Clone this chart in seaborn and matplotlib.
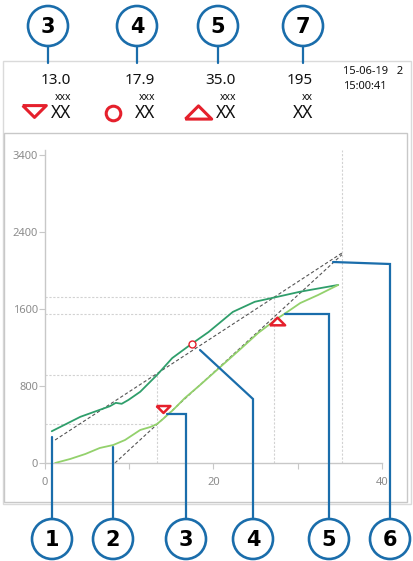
import matplotlib
matplotlib.use("Agg")
import matplotlib.pyplot as plt
from matplotlib.patches import Circle, Rectangle
import numpy as np
import pandas as pd
import seaborn as sns

sns.set_theme(style="white")
plt.rcParams["font.family"] = ["Noto Sans", "DejaVu Sans"]

# ---- data ----
upper_x = [0.8, 4.2, 7.7, 8.4, 9.1, 9.9, 11.3, 13.3, 15.1, 17.2, 19.4, 22.3, 24.9, 27.5, 30.3, 34.8]
upper_y = [330, 480, 590, 625, 615, 655, 740, 915, 1090, 1225, 1360, 1570, 1675, 1725, 1780, 1850]

lower_x = [1.2, 3.0, 4.8, 6.5, 8.1, 9.5, 11.3, 12.5, 13.3, 14.0, 15.2, 16.6, 18.4, 20.8, 23.2,
           25.3, 27.5, 29.1, 30.3, 32.4, 34.8]
lower_y = [0, 42, 94, 156, 187, 239, 343, 374, 405, 457, 551, 675, 810, 997, 1184,
           1351, 1496, 1590, 1662, 1745, 1850]

tangent_a_x = [1.2, 35.25]
tangent_a_y = [239, 2182]
tangent_b_x = [8.3, 35.25]
tangent_b_y = [0, 2165]

point_down = (14.0, 561)
point_circle = (17.45, 1236)
point_up = (27.5, 1475)

x_ticks = [0, 10, 20, 30, 40]
x_tick_labels = ["0", "", "20", "", "40"]
y_ticks = [0, 800, 1600, 2400, 3200]
y_tick_labels = ["0", "800", "1600", "2400", "3400"]

header_values = ["13.0", "17.9", "35.0", "195"]
header_units = ["xxx", "xxx", "xxx", "xx"]
header_names = ["XX", "XX", "XX", "XX"]
stamp_lines = ["15-06-19   2", "15:00:41"]
top_numbers = ["3", "4", "5", "7"]
bottom_numbers = ["1", "2", "3", "4", "5", "6"]

# ---- colours ----
DARK_GREEN = "#2f9e6b"
LIGHT_GREEN = "#93d16c"
RED = "#e5202c"
BLUE = "#1a6dab"
FRAME = "#c8c8c8"
TICK_TXT = "#8c8c8c"

W, H = 414, 561
fig = plt.figure(figsize=(W / 100, H / 100), dpi=100)

def px_box(left, top, right, bottom):
    return [left / W, 1 - bottom / H, (right - left) / W, (bottom - top) / H]

# main plotting area
ax = fig.add_axes(px_box(45, 150, 382, 463))
ax.set_facecolor("none")
ax.set_xlim(0, 40)
ax.set_ylim(0, 3252)

# reference guides
guide = dict(color="#d2d2d2", lw=0.8, ls=(0, (2, 1.5)), zorder=1)
ax.plot([0, 13.3], [914, 914], **guide)
ax.plot([0, 13.3], [405, 405], **guide)
ax.plot([13.3, 13.3], [0, 914], **guide)
ax.plot([0, 27.2], [1725, 1725], **guide)
ax.plot([0, 27.2], [1548, 1548], **guide)
ax.plot([27.2, 27.2], [0, 1725], **guide)
ax.plot([35.25, 35.25], [0, 3252], **guide)

# tangents
tan = dict(color="#555555", lw=0.8, ls=(0, (3, 2)), zorder=2)
ax.plot(tangent_a_x, tangent_a_y, **tan)
ax.plot(tangent_b_x, tangent_b_y, **tan)

# curves
df_upper = pd.DataFrame({"x": upper_x, "y": upper_y})
df_lower = pd.DataFrame({"x": lower_x, "y": lower_y})
sns.lineplot(data=df_upper, x="x", y="y", ax=ax, color=DARK_GREEN, lw=1.3, zorder=3)
sns.lineplot(data=df_lower, x="x", y="y", ax=ax, color=LIGHT_GREEN, lw=1.3, zorder=3)

# markers
flat_down = [(-1, 0.5), (1, 0.5), (0, -0.5), (-1, 0.5)]
flat_up = [(-1, -0.5), (1, -0.5), (0, 0.5), (-1, -0.5)]
ax.plot([point_down[0]], [point_down[1]], marker=flat_down, ms=10, mfc="white", mec=RED, mew=1.8, zorder=5)
ax.plot([point_circle[0]], [point_circle[1]], marker="o", ms=5, mfc="white", mec=RED, mew=1.0, zorder=5)
ax.plot([point_up[0]], [point_up[1]], marker=flat_up, ms=11, mfc="white", mec=RED, mew=1.8, zorder=5)

ax.set_xlabel("")
ax.set_ylabel("")
for s in ["top", "right"]:
    ax.spines[s].set_visible(False)
for s in ["left", "bottom"]:
    ax.spines[s].set_color(FRAME)
    ax.spines[s].set_linewidth(1.0)
ax.spines["bottom"].set_bounds(0, 40)
ax.spines["left"].set_bounds(0, 3252)
ax.set_xticks(x_ticks)
ax.set_xticklabels(x_tick_labels)
ax.set_yticks(y_ticks)
ax.set_yticklabels(y_tick_labels)
ax.tick_params(axis="both", colors=FRAME, labelcolor=TICK_TXT, labelsize=8,
               length=4, width=0.8, direction="out", left=True, bottom=True)
ax.tick_params(axis="x", pad=6)
ax.tick_params(axis="y", pad=1)
ax.grid(False)

# overlay in pixel coordinates
ov = fig.add_axes([0, 0, 1, 1])
ov.set_xlim(0, W)
ov.set_ylim(H, 0)
ov.axis("off")
ov.set_facecolor("none")
ov.set_zorder(10)

# frames
ov.add_patch(Rectangle((3, 61), 408, 443, fill=False, ec="#dadada", lw=1.0))
ov.add_patch(Rectangle((4.5, 133), 403, 369, fill=False, ec=FRAME, lw=1.0))

# header columns
col_right = [71, 155, 236, 313]
for xr, v, u, n in zip(col_right, header_values, header_units, header_names):
    ov.text(xr, 80, v, ha="right", va="center", fontsize=11, color="#111111")
    ov.text(xr, 97, u, ha="right", va="center", fontsize=7.5, color="#111111")
    ov.text(xr, 113, n, ha="right", va="center", fontsize=12.5, color="#111111")
ov.plot([34], [111], marker=flat_down, ms=17, mfc="white", mec=RED, mew=2.2)
ov.plot([113], [113], marker="o", ms=10.5, mfc="white", mec=RED, mew=2.2)
ov.plot([198], [112], marker=flat_up, ms=19, mfc="white", mec=RED, mew=2.2)

ov.text(343, 71, stamp_lines[0], ha="left", va="center", fontsize=8, color="#111111")
ov.text(343, 86, stamp_lines[1], ha="left", va="center", fontsize=8, color="#111111")

# callouts
def badge(cx, cy, label):
    ov.add_patch(Circle((cx, cy), 20, fc="white", ec=BLUE, lw=1.9, zorder=12))
    ov.text(cx, cy + 1, label, ha="center", va="center", fontsize=15,
            fontweight="bold", family="DejaVu Sans", color="black", zorder=13)

top_x = [48, 137, 218, 303]
for x, lab in zip(top_x, top_numbers):
    ov.plot([x, x], [46, 63], color=BLUE, lw=1.6, zorder=11)
    badge(x, 26, lab)

leaders = [
    [(52, 437), (52, 519)],
    [(113, 447), (113, 519)],
    [(167, 414), (186, 414), (186, 519)],
    [(200, 350), (253, 399), (253, 519)],
    [(285, 314), (329, 314), (329, 519)],
    [(333, 262), (390, 264), (390, 519)],
]
for pts, lab in zip(leaders, bottom_numbers):
    xs, ys = zip(*pts)
    ov.plot(xs, ys, color=BLUE, lw=1.6, zorder=11, solid_joinstyle="miter")
    badge(xs[-1], 539, lab)

fig.savefig("out.png", dpi=100)
